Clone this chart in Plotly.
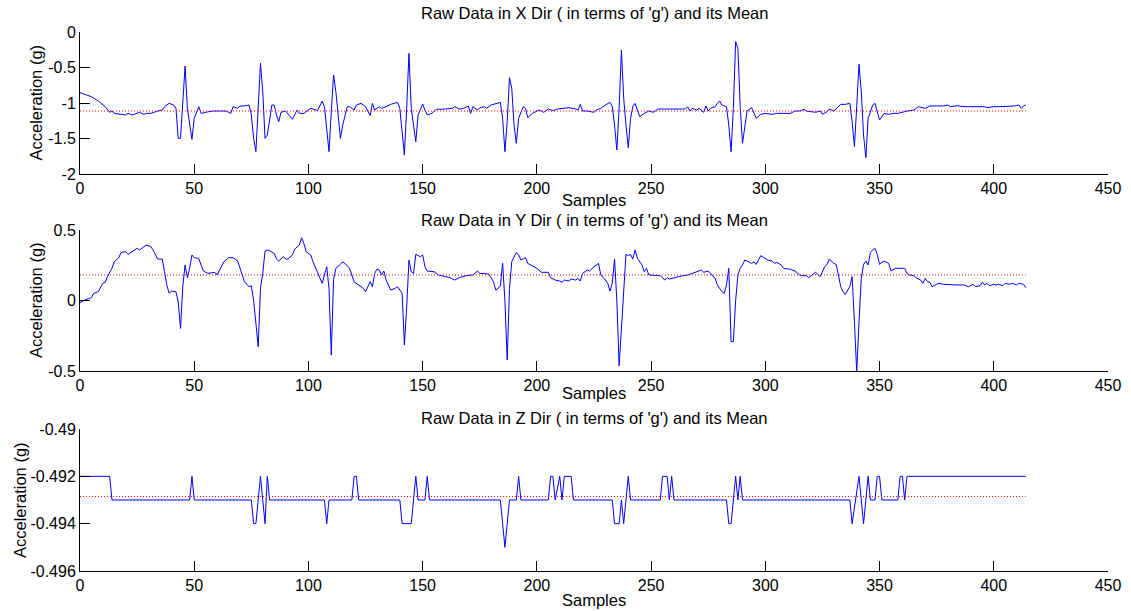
import plotly.graph_objects as go

# ---------------- data ----------------
x_dir_points = [
    (0, -0.854), (5, -0.911), (8, -0.972), (11, -1.052), (13, -1.131), (14, -1.113), (15, -1.146),
    (18, -1.160), (20, -1.169), (21, -1.146), (23, -1.169), (26, -1.131), (28, -1.160), (29, -1.146),
    (31, -1.146), (34, -1.113), (36, -1.099), (37, -1.052), (39, -1.005), (41, -1.028), (42, -1.075),
    (43, -1.498), (44, -1.498), (46, -0.479), (47, -1.075), (49, -1.512), (50, -1.216), (52, -1.052),
    (53, -1.146), (55, -1.131), (58, -1.113), (61, -1.113), (64, -1.113), (66, -1.146), (67, -1.052),
    (69, -1.075), (70, -1.042), (72, -1.042), (74, -1.028), (75, -1.169), (76, -1.498), (77, -1.685),
    (78, -1.075), (79, -0.441), (80, -0.840), (81, -1.498), (82, -1.451), (84, -1.028), (85, -1.028),
    (86, -1.169), (87, -1.263), (88, -1.131), (90, -1.113), (93, -1.230), (95, -1.099), (96, -1.146),
    (98, -1.146), (100, -1.099), (101, -1.075), (104, -1.105), (106, -0.972), (107, -1.052),
    (109, -1.685), (110, -1.122), (111, -0.606), (112, -0.840), (114, -1.498), (115, -1.310),
    (117, -1.052), (118, -1.052), (120, -1.099), (121, -1.028), (123, -1.005), (125, -1.052),
    (127, -1.178), (128, -1.005), (129, -1.099), (131, -1.052), (132, -1.075), (134, -1.052),
    (136, -1.019), (139, -0.991), (140, -1.075), (141, -1.404), (142, -1.732), (143, -1.075),
    (144, -0.300), (145, -1.075), (147, -1.545), (148, -1.169), (150, -1.014), (151, -1.099),
    (152, -1.169), (154, -1.146), (156, -1.089), (160, -1.085), (163, -1.075), (164, -1.052),
    (166, -1.085), (168, -1.075), (170, -1.042), (171, -1.146), (172, -1.052), (174, -1.099),
    (175, -1.066), (177, -1.052), (178, -1.075), (180, -1.028), (182, -1.014), (184, -0.991),
    (185, -1.216), (186, -1.685), (187, -1.263), (188, -0.643), (189, -0.793), (190, -1.310),
    (191, -1.568), (192, -1.216), (194, -1.052), (195, -1.075), (196, -1.206), (198, -1.146),
    (201, -1.099), (203, -1.131), (205, -1.085), (207, -1.108), (209, -1.085), (212, -1.075),
    (214, -1.066), (217, -1.085), (218, -1.099), (219, -1.019), (220, -1.113), (222, -1.113),
    (225, -1.131), (226, -1.099), (228, -1.075), (230, -1.028), (232, -0.991), (233, -1.052),
    (234, -1.310), (235, -1.662), (236, -1.075), (237, -0.254), (238, -0.934), (239, -1.310),
    (240, -1.629), (241, -1.216), (242, -1.052), (243, -1.005), (244, -1.099), (245, -1.192),
    (247, -1.146), (249, -1.113), (251, -1.131), (253, -1.085), (256, -1.085), (259, -1.085),
    (262, -1.075), (265, -1.085), (266, -1.052), (267, -1.113), (268, -1.075), (270, -1.099),
    (271, -1.075), (273, -1.131), (274, -1.042), (275, -1.113), (276, -1.075), (278, -1.052),
    (279, -1.005), (280, -0.972), (281, -1.028), (283, -1.052), (284, -1.310), (285, -1.685),
    (286, -1.075), (287, -0.136), (288, -0.230), (289, -1.050), (290, -1.568), (291, -1.310),
    (292, -1.113), (294, -1.066), (295, -1.131), (296, -1.216), (298, -1.160), (300, -1.146),
    (303, -1.160), (305, -1.146), (308, -1.146), (311, -1.146), (313, -1.113), (315, -1.113),
    (317, -1.089), (318, -1.113), (320, -1.122), (322, -1.131), (324, -1.113), (325, -1.160),
    (327, -1.122), (328, -1.085), (330, -1.113), (331, -1.085), (333, -1.019), (335, -1.019),
    (337, -1.005), (338, -1.263), (339, -1.615), (340, -1.050), (341, -0.455), (342, -0.840),
    (343, -1.450), (344, -1.770), (345, -1.216), (347, -1.028), (348, -1.005), (349, -1.122),
    (350, -1.239), (352, -1.146), (354, -1.160), (356, -1.146), (358, -1.146), (360, -1.131),
    (362, -1.113), (365, -1.099), (367, -1.052), (370, -1.075), (372, -1.042), (375, -1.042),
    (378, -1.042), (380, -1.028), (381, -1.052), (384, -1.038), (387, -1.052), (390, -1.052),
    (393, -1.052), (396, -1.052), (397, -1.066), (400, -1.052), (403, -1.052), (406, -1.052),
    (409, -1.042), (411, -1.028), (412, -1.075), (413, -1.042), (414, -1.028),
]

y_dir_points = [
    (0, -0.016), (2, 0.003), (4, 0.015), (5, 0.020), (6, 0.051), (8, 0.062), (10, 0.122),
    (11, 0.129), (12, 0.169), (14, 0.228), (15, 0.275), (17, 0.304), (18, 0.341), (20, 0.346),
    (21, 0.327), (23, 0.346), (25, 0.370), (26, 0.358), (28, 0.382), (29, 0.393), (31, 0.382),
    (32, 0.358), (34, 0.294), (36, 0.294), (37, 0.204), (38, 0.110), (39, 0.051), (40, 0.067),
    (42, 0.062), (43, -0.009), (44, -0.198), (45, 0.100), (46, 0.252), (47, 0.162), (48, 0.228),
    (49, 0.323), (50, 0.304), (52, 0.299), (53, 0.252), (54, 0.209), (56, 0.192), (58, 0.200),
    (59, 0.200), (60, 0.181), (61, 0.216), (63, 0.275), (65, 0.304), (67, 0.304), (69, 0.280),
    (71, 0.181), (72, 0.133), (74, 0.098), (75, 0.105), (76, 0.000), (77, -0.150), (78, -0.327),
    (79, 0.086), (80, 0.193), (81, 0.351), (82, 0.358), (83, 0.353), (85, 0.334), (86, 0.294),
    (87, 0.280), (89, 0.311), (90, 0.294), (91, 0.294), (93, 0.323), (94, 0.365), (96, 0.393),
    (97, 0.445), (98, 0.405), (99, 0.346), (101, 0.323), (102, 0.275), (104, 0.192), (106, 0.122),
    (107, 0.181), (108, 0.240), (109, 0.086), (110, -0.387), (111, 0.150), (112, 0.228),
    (114, 0.256), (115, 0.275), (117, 0.247), (118, 0.228), (120, 0.133), (121, 0.122),
    (122, 0.105), (124, 0.086), (125, 0.062), (126, 0.105), (127, 0.133), (128, 0.098),
    (129, 0.192), (130, 0.223), (131, 0.216), (132, 0.181), (133, 0.209), (134, 0.145),
    (135, 0.110), (136, 0.074), (138, 0.086), (139, 0.098), (141, 0.051), (142, -0.316),
    (143, -0.050), (144, 0.287), (145, 0.204), (146, 0.192), (147, 0.327), (149, 0.311),
    (150, 0.323), (151, 0.240), (152, 0.209), (155, 0.204), (157, 0.181), (160, 0.169),
    (162, 0.162), (164, 0.145), (166, 0.162), (169, 0.176), (172, 0.181), (174, 0.209),
    (175, 0.192), (177, 0.192), (179, 0.185), (181, 0.133), (182, 0.074), (184, 0.100),
    (185, 0.263), (186, 0.000), (187, -0.422), (188, 0.086), (189, 0.275), (191, 0.341),
    (192, 0.323), (193, 0.287), (195, 0.304), (196, 0.263), (198, 0.247), (200, 0.228),
    (202, 0.200), (205, 0.200), (206, 0.162), (208, 0.145), (210, 0.138), (211, 0.129),
    (212, 0.145), (214, 0.138), (215, 0.152), (217, 0.145), (218, 0.157), (219, 0.138),
    (220, 0.192), (222, 0.216), (223, 0.209), (225, 0.240), (227, 0.263), (228, 0.181),
    (230, 0.145), (231, 0.122), (232, 0.067), (233, 0.122), (234, 0.294), (235, 0.000),
    (236, -0.463), (237, -0.198), (238, 0.040), (239, 0.327), (240, 0.318), (241, 0.327),
    (242, 0.294), (243, 0.358), (244, 0.299), (246, 0.252), (247, 0.204), (248, 0.228),
    (249, 0.181), (252, 0.181), (254, 0.176), (256, 0.145), (257, 0.162), (258, 0.152),
    (260, 0.162), (262, 0.169), (264, 0.176), (266, 0.181), (268, 0.192), (270, 0.204),
    (272, 0.216), (273, 0.200), (275, 0.209), (276, 0.192), (278, 0.157), (279, 0.110),
    (281, 0.062), (282, 0.051), (283, 0.110), (284, 0.228), (285, -0.292), (286, -0.292),
    (287, 0.000), (288, 0.181), (289, 0.228), (290, 0.252), (291, 0.287), (292, 0.280),
    (294, 0.263), (295, 0.275), (296, 0.256), (298, 0.318), (300, 0.299), (301, 0.287),
    (303, 0.280), (304, 0.263), (305, 0.270), (307, 0.252), (308, 0.228), (311, 0.221),
    (313, 0.209), (315, 0.181), (316, 0.176), (318, 0.176), (319, 0.162), (321, 0.185),
    (322, 0.200), (324, 0.169), (326, 0.240), (327, 0.256), (328, 0.294), (330, 0.263),
    (331, 0.256), (332, 0.181), (333, 0.098), (334, 0.062), (335, 0.043), (337, 0.100),
    (338, 0.169), (339, -0.150), (340, -0.510), (341, -0.150), (342, 0.157), (343, 0.256),
    (344, 0.280), (345, 0.252), (346, 0.341), (347, 0.358), (348, 0.370), (349, 0.327),
    (350, 0.256), (351, 0.270), (352, 0.280), (354, 0.263), (355, 0.209), (357, 0.228),
    (359, 0.228), (361, 0.228), (362, 0.192), (363, 0.181), (365, 0.176), (366, 0.162),
    (368, 0.145), (369, 0.122), (370, 0.157), (371, 0.133), (372, 0.129), (373, 0.098),
    (375, 0.115), (376, 0.122), (378, 0.115), (381, 0.110), (384, 0.110), (387, 0.110),
    (389, 0.098), (391, 0.115), (392, 0.098), (394, 0.105), (395, 0.129), (396, 0.110),
    (397, 0.122), (398, 0.105), (400, 0.115), (401, 0.110), (402, 0.115), (404, 0.105),
    (405, 0.122), (407, 0.115), (408, 0.122), (410, 0.110), (411, 0.122), (413, 0.115),
    (414, 0.091),
]

z_dir_points = [
    (0, -0.492), (13, -0.492), (14, -0.493), (48, -0.493), (49, -0.492), (50, -0.493),
    (75, -0.493), (76, -0.494), (77, -0.494), (79, -0.492), (81, -0.494), (82, -0.492),
    (83, -0.493), (107, -0.493), (108, -0.494), (109, -0.493), (119, -0.493), (120, -0.492),
    (121, -0.492), (122, -0.493), (140, -0.493), (141, -0.494), (145, -0.494), (147, -0.492),
    (148, -0.493), (151, -0.493), (152, -0.492), (153, -0.493), (184, -0.493), (186, -0.495),
    (188, -0.493), (191, -0.493), (192, -0.492), (193, -0.493), (205, -0.493), (206, -0.492),
    (207, -0.492), (208, -0.493), (210, -0.492), (211, -0.493), (212, -0.492), (215, -0.492),
    (216, -0.493), (233, -0.493), (234, -0.494), (236, -0.494), (237, -0.493), (238, -0.494),
    (240, -0.492), (241, -0.493), (254, -0.493), (255, -0.492), (257, -0.492), (258, -0.493),
    (259, -0.492), (260, -0.493), (283, -0.493), (284, -0.494), (285, -0.494), (287, -0.492),
    (288, -0.493), (289, -0.492), (290, -0.493), (337, -0.493), (338, -0.494), (341, -0.492),
    (343, -0.494), (345, -0.492), (346, -0.493), (348, -0.493), (349, -0.492), (350, -0.492),
    (351, -0.493), (358, -0.493), (359, -0.492), (360, -0.492), (361, -0.493), (362, -0.492),
    (414, -0.492),
]

x_mean = -1.113
y_mean = 0.181
z_mean = -0.49285
mean_span = [0, 414]

x_tick_vals = [0, 50, 100, 150, 200, 250, 300, 350, 400, 450]
yx_tick_vals = [0, -0.5, -1, -1.5, -2]
yx_tick_text = ["0", "-0.5", "-1", "-1.5", "-2"]
yy_tick_vals = [0.5, 0, -0.5]
yy_tick_text = ["0.5", "0", "-0.5"]
yz_tick_vals = [-0.49, -0.492, -0.494, -0.496]
yz_tick_text = ["-0.49", "-0.492", "-0.494", "-0.496"]

titles = [
    "Raw Data in X Dir ( in terms of 'g') and its Mean",
    "Raw Data in Y Dir ( in terms of 'g') and its Mean",
    "Raw Data in Z Dir ( in terms of 'g') and its Mean",
]
x_label = "Samples"
y_label = "Acceleration (g)"

# ---------------- layout geometry (pixels) ----------------
W, H = 1131, 611
ML, MR = 80, 23
FONT = "Liberation Sans, Arial, sans-serif"
boxes = [(32, 174), (230, 371), (429, 571)]       # (top, bottom) of each axes box
title_rows = [13, 220, 418]
xlabel_rows = [200, 393, 600]
ylabel_cols = [35.5, 35.5, 20]


def py2paper(py):
    return 1 - py / H


def px2paper(px):
    return (px - ML) / (W - ML - MR)


fig = go.Figure()

series = [x_dir_points, y_dir_points, z_dir_points]
means = [x_mean, y_mean, z_mean]
for i, (pts, m) in enumerate(zip(series, means)):
    ax = "" if i == 0 else str(i + 1)
    fig.add_trace(go.Scatter(
        x=[p[0] for p in pts], y=[p[1] for p in pts], mode="lines",
        line=dict(color="#0000ff", width=1), xaxis="x" + ax, yaxis="y" + ax,
        showlegend=False, hoverinfo="skip"))
    fig.add_trace(go.Scatter(
        x=mean_span, y=[m, m], mode="lines",
        line=dict(color="#ff0000", width=1, dash="1px,2px"), xaxis="x" + ax, yaxis="y" + ax,
        showlegend=False, hoverinfo="skip"))

ytick_sets = [(yx_tick_vals, yx_tick_text, [-2, 0]),
              (yy_tick_vals, yy_tick_text, [-0.5, 0.5]),
              (yz_tick_vals, yz_tick_text, [-0.496, -0.49])]

common = dict(showline=True, linecolor="#000000", linewidth=1, mirror=False,
              showgrid=False, zeroline=False, ticks="inside", ticklen=10,
              tickwidth=1, tickcolor="#000000", automargin=False,
              tickfont=dict(family=FONT, size=16, color="#000000"))

layout = dict(template="none", width=W, height=H,
              margin=dict(l=ML, r=MR, t=0, b=0, pad=0, autoexpand=False),
              plot_bgcolor="white", paper_bgcolor="white", showlegend=False)
annotations = []
for i, ((top, bot), (tv, tt, rng)) in enumerate(zip(boxes, ytick_sets)):
    ax = "" if i == 0 else str(i + 1)
    layout["xaxis" + ax] = dict(domain=[0, 1], range=[0, 450], tickvals=x_tick_vals,
                                anchor="y" + ax, **common)
    layout["yaxis" + ax] = dict(domain=[py2paper(bot), py2paper(top)], range=rng,
                                tickvals=tv, ticktext=tt, anchor="x" + ax, **common)
    annotations.append(dict(text=titles[i], x=0.5, xref="paper", y=py2paper(title_rows[i]),
                            yref="paper", xanchor="center", yanchor="middle", showarrow=False,
                            font=dict(family=FONT, size=16.5, color="#000000")))
    annotations.append(dict(text=x_label, x=0.5, xref="paper", y=py2paper(xlabel_rows[i]),
                            yref="paper", xanchor="center", yanchor="middle", showarrow=False,
                            font=dict(family=FONT, size=16.5, color="#000000")))
    annotations.append(dict(text=y_label, x=px2paper(ylabel_cols[i]), xref="paper",
                            y=py2paper((top + bot) / 2), yref="paper", xanchor="center",
                            yanchor="middle", textangle=-90, showarrow=False,
                            font=dict(family=FONT, size=16.5, color="#000000")))
layout["annotations"] = annotations
fig.update_layout(**layout)

fig.write_html("out.html")
